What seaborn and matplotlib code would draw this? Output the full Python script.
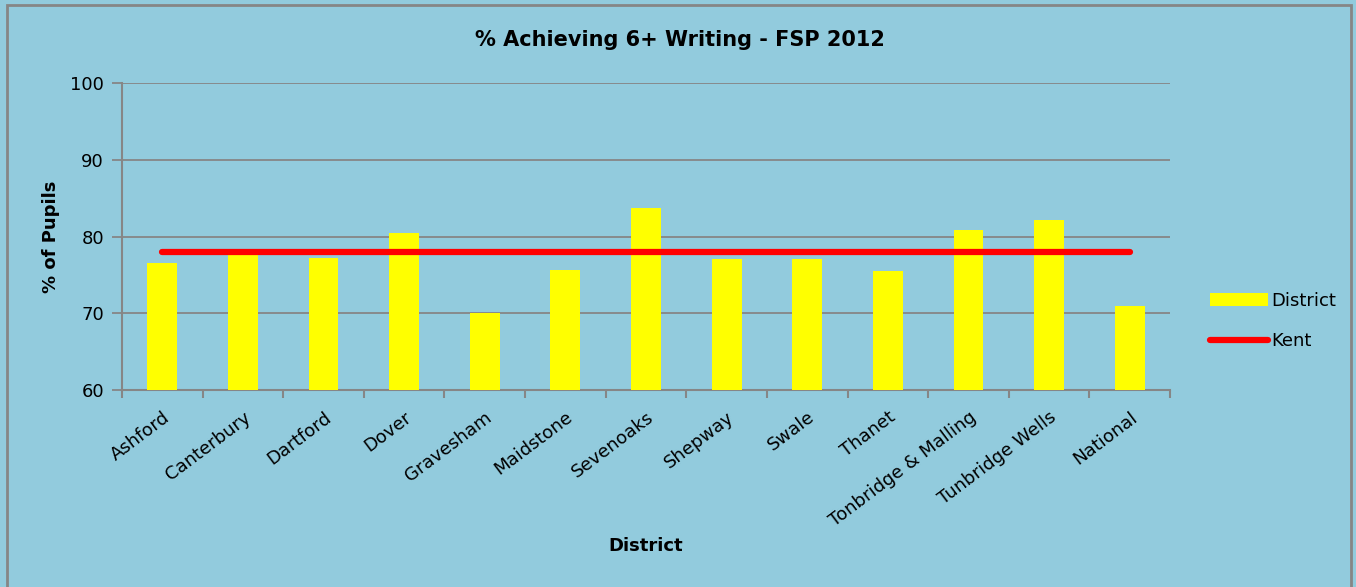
import matplotlib
matplotlib.use("Agg")
import matplotlib.pyplot as plt
import seaborn as sns
import pandas as pd
from matplotlib.patches import Rectangle
from matplotlib.lines import Line2D
from matplotlib.patches import Patch

districts = ["Ashford", "Canterbury", "Dartford", "Dover", "Gravesham", "Maidstone",
             "Sevenoaks", "Shepway", "Swale", "Thanet", "Tonbridge & Malling",
             "Tunbridge Wells", "National"]
district_values = [76.6, 77.8, 77.2, 80.5, 70.0, 75.6, 83.7, 77.1, 77.1, 75.5, 80.9, 82.1, 71.0]
kent_values = [78.0] * len(districts)
y_ticks = [60, 70, 80, 90, 100]

bg = "#92CBDD"
grid_c = "#868686"

sns.set_theme(style="white")
plt.rcParams['font.family'] = ['DejaVu Sans']
plt.rcParams['text.color'] = 'black'
plt.rcParams['axes.labelcolor'] = 'black'
plt.rcParams['xtick.color'] = 'black'
plt.rcParams['ytick.color'] = 'black'

fig = plt.figure(figsize=(13.56, 5.87), dpi=100, facecolor=bg)
ax = fig.add_axes([122/1356, 1-390/587, (1170-122)/1356, (390-83)/587])
ax.set_facecolor(bg)

df = pd.DataFrame({"District": districts, "Value": district_values, "Kent": kent_values})
sns.barplot(data=df, x="District", y="Value", color="#FFFF00", saturation=1,
            width=0.37, ax=ax, zorder=3, edgecolor="none", linewidth=0)
sns.lineplot(x=list(range(len(districts))), y=df["Kent"], color="#FF0000",
             linewidth=4.5, ax=ax, zorder=4, solid_capstyle="round")

ax.set_ylim(60, 100)
ax.set_xlim(-0.5, len(districts) - 0.5)
ax.set_yticks(y_ticks)
ax.yaxis.grid(True, color=grid_c, linewidth=1.3, zorder=0)
ax.set_axisbelow(True)
for s in ["top", "right"]:
    ax.spines[s].set_visible(False)
for s in ["left", "bottom"]:
    ax.spines[s].set_color(grid_c)
    ax.spines[s].set_linewidth(1.5)

ax.set_xticks(range(len(districts)))
ax.set_xticklabels(districts, rotation=37, ha="right", rotation_mode="anchor", fontsize=13)
ax.tick_params(axis="x", which="major", length=0, pad=13, labelcolor="black")
ax.set_xticks([i - 0.5 for i in range(len(districts) + 1)], minor=True)
ax.tick_params(axis="x", which="minor", length=6, width=1.5, color=grid_c, direction="out", bottom=True)
ax.tick_params(axis="y", length=7, width=1.3, color=grid_c, direction="out", left=True,
               labelsize=13, pad=6, labelcolor="black")

ax.set_xlabel("District", fontsize=13, fontweight="bold", labelpad=0, color="black")
ax.xaxis.set_label_coords((646-122)/(1170-122), -(537-390)/(390-83))
ax.set_ylabel("% of Pupils", fontsize=13, fontweight="bold", color="black")
ax.yaxis.set_label_coords(-(122-60)/(1170-122), 0.5)

fig.text(680/1356, 1-40/587, "% Achieving 6+ Writing - FSP 2012", ha="center", va="center",
         fontsize=15, fontweight="bold", color="black")

handles = [Patch(facecolor="#FFFF00", edgecolor="none", label="District"),
           Line2D([0], [0], color="#FF0000", linewidth=4.5, solid_capstyle="round", label="Kent")]
fig.legend(handles=handles, loc="center left", bbox_to_anchor=(1194/1356, 1-321/587),
           frameon=False, fontsize=13, handlelength=3.2, handletextpad=0.2, labelspacing=1.25,
           labelcolor="black")

fig.patches.append(Rectangle((7/1356, -0.1), (1351-7)/1356, 1.1 - 5/587, transform=fig.transFigure,
                             fill=False, edgecolor=grid_c, linewidth=2))

fig.savefig("out.png", dpi=100, facecolor=bg)
